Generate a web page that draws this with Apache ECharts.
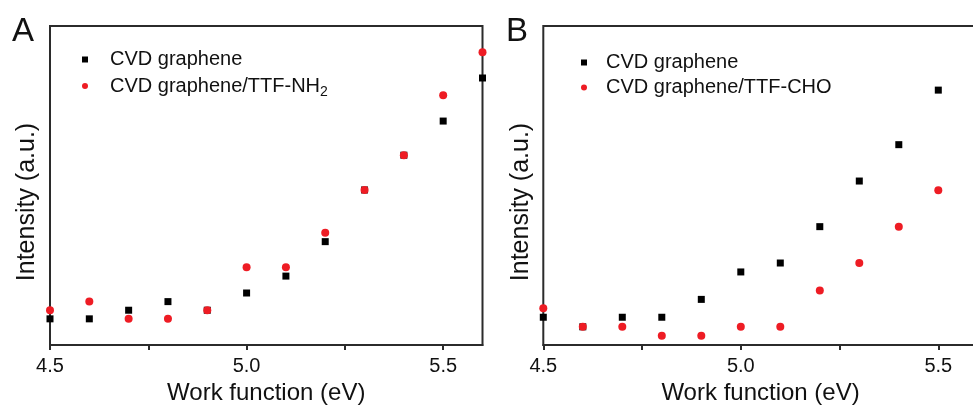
<!DOCTYPE html>
<html>
<head>
<meta charset="utf-8">
<script src="https://cdn.jsdelivr.net/npm/echarts@6/dist/echarts.min.js"></script>
<style>
html,body{margin:0;padding:0;background:#fff;}
#chart{width:973px;height:405px;}
</style>
</head>
<body>
<div id="chart"></div>
<script>
// Work function (eV)
var workFunction = [4.5, 4.6, 4.7, 4.8, 4.9, 5.0, 5.1, 5.2, 5.3, 5.4, 5.5, 5.6];
// Panel A intensities (a.u.)
var aGraphene = [8.2, 8.2, 10.9, 13.6, 10.9, 16.3, 21.6, 32.4, 48.6, 59.5, 70.2, 83.7];
var aTTFNH2   = [10.9, 13.6, 8.2, 8.2, 10.9, 24.4, 24.4, 35.2, 48.6, 59.5, 78.3, 91.8];
// Panel B intensities (a.u.)
var bGraphene = [8.7, 5.7, 8.7, 8.7, 14.3, 22.9, 25.7, 37.1, 51.4, 62.8, 79.9, null];
var bTTFCHO   = [11.5, 5.7, 5.7, 2.9, 2.9, 5.7, 5.7, 17.1, 25.7, 37.1, 48.5, 63.2];
// Tick values
var tickValues = [4.5, 4.75, 5.0, 5.25, 5.5];
var labelValues = [4.5, 5.0, 5.5];

var nameG = 'CVD graphene';
var nameA2 = 'CVD graphene/TTF-NH2';
var nameB2 = 'CVD graphene/TTF-CHO';

function pairs(xs, ys) {
  var out = [];
  for (var i = 0; i < xs.length; i++) {
    if (ys[i] !== null && ys[i] !== undefined) out.push([xs[i], ys[i]]);
  }
  return out;
}

var FONT = 'Liberation Sans, Arial, sans-serif';
var AX = '#2b2b2b';
var TXT = '#111';
var RED = '#ee1c24';

function makeX(gridIndex) {
  return {
    type: 'value', gridIndex: gridIndex, min: 4.5, max: 5.6,
    name: 'Work function (eV)', nameLocation: 'middle', nameGap: 34,
    nameTextStyle: {fontFamily: FONT, fontSize: 24, color: TXT},
    axisLine: {show: true, onZero: false, lineStyle: {color: AX, width: 2}},
    axisTick: {show: true, inside: false, length: 5, customValues: tickValues, lineStyle: {color: AX, width: 2}},
    axisLabel: {show: true, margin: 11, customValues: labelValues, fontFamily: FONT, fontSize: 20, color: TXT,
      formatter: function (v) { return Number(v).toFixed(1); }},
    splitLine: {show: false}
  };
}
function makeY(gridIndex) {
  return {
    type: 'value', gridIndex: gridIndex, min: 0, max: 100,
    name: 'Intensity (a.u.)', nameLocation: 'middle', nameGap: 10,
    nameTextStyle: {fontFamily: FONT, fontSize: 25, color: TXT, padding: [0, 33, 0, 0]},
    axisLine: {show: false}, axisTick: {show: false}, axisLabel: {show: false},
    splitLine: {show: false}
  };
}
function legendFmt(name) {
  if (name.slice(-3) === 'NH2') return name.slice(0, -1) + '{sub|2}';
  return name;
}
function makeLegend(left, top, names, spacer, gap) {
  return {
    orient: 'vertical', left: left, top: top, padding: 0, itemGap: gap,
    itemWidth: 6, itemHeight: 6,
    selectedMode: false,
    data: names,
    formatter: legendFmt,
    textStyle: {fontFamily: FONT, fontSize: 20, color: TXT, lineHeight: 20, padding: [0, 0, 0, spacer],
      rich: {sub: {fontFamily: FONT, fontSize: 14, lineHeight: 14, color: TXT, verticalAlign: 'top', padding: [9, 0, 0, 0]}}}
  };
}

var chart = echarts.init(document.getElementById('chart'), null, {renderer: 'canvas'});
chart.setOption({
  animation: false,
  backgroundColor: '#fff',
  title: [
    {text: 'A', left: 12, top: 15, padding: 0, textStyle: {fontFamily: FONT, fontSize: 33, fontWeight: 'normal', color: TXT}},
    {text: 'B', left: 506, top: 15, padding: 0, textStyle: {fontFamily: FONT, fontSize: 33, fontWeight: 'normal', color: TXT}}
  ],
  grid: [
    {left: 50, top: 26, width: 432.5, height: 319, outerBoundsMode: 'none', containLabel: false,
      show: true, borderColor: AX, borderWidth: 2, backgroundColor: 'transparent'},
    {left: 543.3, top: 26, width: 434.5, height: 319, outerBoundsMode: 'none', containLabel: false,
      show: true, borderColor: AX, borderWidth: 2, backgroundColor: 'transparent'}
  ],
  xAxis: [makeX(0), makeX(1)],
  yAxis: [makeY(0), makeY(1)],
  legend: [
    makeLegend(82, 49.5, [nameG, nameA2], 17, 6.5),
    makeLegend(581, 52.5, [nameG, nameB2], 14, 5)
  ],
  series: [
    {type: 'scatter', name: nameG, xAxisIndex: 0, yAxisIndex: 0, symbol: 'rect', symbolSize: 7, clip: true,
      itemStyle: {color: '#000', opacity: 1}, data: pairs(workFunction, aGraphene)},
    {type: 'scatter', name: nameA2, xAxisIndex: 0, yAxisIndex: 0, symbol: 'circle', symbolSize: 8, clip: true,
      itemStyle: {color: RED, opacity: 1}, data: pairs(workFunction, aTTFNH2)},
    {type: 'scatter', name: nameG, xAxisIndex: 1, yAxisIndex: 1, symbol: 'rect', symbolSize: 7, clip: true,
      itemStyle: {color: '#000', opacity: 1}, data: pairs(workFunction, bGraphene)},
    {type: 'scatter', name: nameB2, xAxisIndex: 1, yAxisIndex: 1, symbol: 'circle', symbolSize: 8, clip: true,
      itemStyle: {color: RED, opacity: 1}, data: pairs(workFunction, bTTFCHO)}
  ]
});
</script>
</body>
</html>
